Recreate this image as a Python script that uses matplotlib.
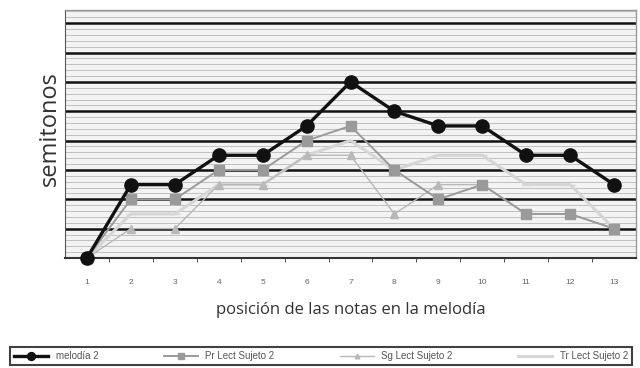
import matplotlib
matplotlib.use("Agg")
import matplotlib.pyplot as plt
from matplotlib.ticker import MultipleLocator, FixedLocator

posiciones = list(range(1, 14))
etiquetas_x = [str(p) for p in posiciones]
melodia = [0, 5, 5, 7, 7, 9, 12, 10, 9, 9, 7, 7, 5]
pr_lect = [0, 4, 4, 6, 6, 8, 9, 6, 4, 5, 3, 3, 2]
sg_lect = [0, 2, 2, 5, 5, 7, 7, 3, 5, 5, 3, 3, 2]
tr_lect = [0, 3, 3, 5, 5, 7, 8, 6, 7, 7, 5, 5, 2]

fig = plt.figure(figsize=(6.4, 3.68), dpi=100)
ax = fig.add_axes([65/640, 1-258/368, (636-65)/640, (258-10)/368])
ax.set_facecolor('#f3f3f3')

ax.set_xlim(0.5, 13.5)
ax.set_ylim(0, 16.9)

ax.yaxis.set_major_locator(MultipleLocator(2))
ax.yaxis.set_minor_locator(MultipleLocator(0.4))
ax.grid(which='minor', axis='y', color='#b8b8b8', lw=0.6)
ax.grid(which='major', axis='y', color='#111111', lw=1.8)
ax.set_axisbelow(True)
ax.set_yticklabels([])
ax.tick_params(axis='y', which='both', length=0)

ax.xaxis.set_major_locator(FixedLocator(posiciones))
ax.set_xticklabels(etiquetas_x, fontsize=6, color='#666666', family='Liberation Sans')
ax.xaxis.set_minor_locator(FixedLocator([p + 0.5 for p in posiciones[:-1]]))
ax.tick_params(axis='x', which='major', length=0, pad=15)
ax.tick_params(axis='x', which='minor', length=3, color='#333333', direction='out')

for s in ['top', 'right']:
    ax.spines[s].set_color('#999999')
    ax.spines[s].set_linewidth(1.0)
ax.spines['left'].set_color('#555555')
ax.spines['bottom'].set_color('#333333')
ax.spines['bottom'].set_linewidth(1.5)

ax.plot(posiciones, tr_lect, color='#d6d6d6', lw=2.2, marker='_', ms=7,
        label='Tr Lect Sujeto 2', clip_on=False, zorder=3)
ax.plot(posiciones, sg_lect, color='#b8b8b8', lw=1.0, marker='^', ms=5.5,
        label='Sg Lect Sujeto 2', clip_on=False, zorder=4)
ax.plot(posiciones, pr_lect, color='#9a9a9a', lw=1.4, marker='s', ms=6.5,
        label='Pr Lect Sujeto 2', clip_on=False, zorder=5)
ax.plot(posiciones, melodia, color='#111111', lw=2.4, marker='o', ms=9.5,
        label='melodía 2', clip_on=False, zorder=6)

ax.set_ylabel('semitonos', fontsize=17, color='#333333',
              family='Open Sans')
ax.yaxis.set_label_coords(-0.006, 0.52)
ax.set_xlabel('posición de las notas en la melodía', fontsize=12,
              color='#333333', labelpad=12, family='Open Sans')

handles, labels = ax.get_legend_handles_labels()
leg = fig.legend(handles[::-1], labels[::-1], ncol=4, mode='expand',
                 bbox_to_anchor=(10/640, 3/368, 622/640, 22/368),
                 loc='lower left', frameon=True, fancybox=False,
                 edgecolor='#111111', borderaxespad=0, handlelength=3.5,
                 markerscale=0.6, labelcolor='#555555',
                 prop={'family': 'Liberation Sans', 'size': 7})
leg.get_frame().set_linewidth(1.5)

fig.savefig('out.png', dpi=100)
